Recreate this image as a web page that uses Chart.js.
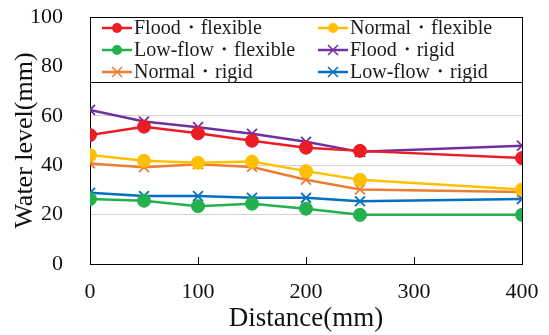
<!DOCTYPE html>
<html lang="en">
<head>
    <meta charset="UTF-8">
    <title>Water level vs distance</title>
    <script src="https://cdn.jsdelivr.net/npm/chart.js"></script>
    <style>
        body { margin: 0; padding: 0; background: #ffffff; }
        .chart-wrapper { position: relative; width: 549px; height: 335px; }
    </style>
</head>
<body>
    <div class="chart-wrapper">
        <canvas id="levelChart"></canvas>
    </div>
    <script>
        // distances along the channel (mm)
        var distances = [0, 50, 100, 150, 200, 250, 400];

        var floodFlexible   = [52.2, 55.6, 52.9, 49.9, 47.1, 45.8, 42.9];
        var normalFlexible  = [44.1, 41.8, 41.0, 41.5, 37.6, 34.1, 30.2];
        var lowFlexible     = [26.3, 25.6, 23.4, 24.4, 22.4, 19.9, 19.9];
        var floodRigid      = [62.4, 57.7, 55.4, 52.7, 49.5, 45.4, 47.9];
        var normalRigid     = [40.7, 39.2, 40.4, 39.3, 34.1, 30.2, 29.1];
        var lowRigid        = [28.8, 27.5, 27.5, 26.8, 26.8, 25.4, 26.3];

        var seriesNames = ['Flood・flexible', 'Normal・flexible', 'Low-flow・flexible',
                           'Flood・rigid', 'Normal・rigid', 'Low-flow・rigid'];

        var serif = "'Liberation Serif', 'Times New Roman', serif";

        function toPoints(vals) {
            return vals.map(function(v, i) { return { x: distances[i], y: v }; });
        }

        function makeSet(label, vals, color, marker) {
            return {
                label: label,
                data: toPoints(vals),
                borderColor: color,
                backgroundColor: color,
                borderWidth: 2.5,
                pointStyle: marker,
                pointRadius: marker === 'circle' ? 6.5 : 7,
                pointBorderWidth: marker === 'circle' ? 1 : 1.8,
                tension: 0
            };
        }

        var datasets = [
            makeSet(seriesNames[0], floodFlexible, '#EC1C24', 'circle'),
            makeSet(seriesNames[1], normalFlexible, '#FFC000', 'circle'),
            makeSet(seriesNames[2], lowFlexible, '#22B14C', 'circle'),
            makeSet(seriesNames[3], floodRigid, '#7030A0', 'crossRot'),
            makeSet(seriesNames[4], normalRigid, '#ED7D31', 'crossRot'),
            makeSet(seriesNames[5], lowRigid, '#0070C0', 'crossRot')
        ];

        // legend box inside the plot plus inner x ticks and right frame
        var framePlugin = {
            id: 'frame',
            afterDatasetsDraw: function(chart) {
                var c = chart.ctx, a = chart.chartArea;
                var xs = chart.scales.x;
                c.save();
                c.strokeStyle = '#000';
                c.lineWidth = 1;
                // right border
                c.beginPath();
                c.moveTo(a.right + 0.5, a.top);
                c.lineTo(a.right + 0.5, a.bottom);
                c.stroke();
                // inner tick marks on x axis
                xs.ticks.forEach(function(t) {
                    var px = Math.round(xs.getPixelForValue(t.value)) + 0.5;
                    c.beginPath();
                    c.moveTo(px, a.bottom);
                    c.lineTo(px, a.bottom - 7);
                    c.stroke();
                });
                // legend box
                var boxH = 65;
                c.fillStyle = '#fff';
                c.fillRect(a.left, a.top, a.right - a.left, boxH);
                c.strokeRect(a.left + 0.5, a.top + 0.5, a.right - a.left, boxH);
                c.font = '20px ' + serif;
                c.textBaseline = 'middle';
                chart.data.datasets.forEach(function(ds, k) {
                    var col = k % 2, row = Math.floor(k / 2);
                    var x0 = a.left + 12 + col * 216;
                    var y0 = a.top + 11 + row * 22;
                    c.strokeStyle = ds.borderColor;
                    c.lineWidth = 2.5;
                    c.beginPath();
                    c.moveTo(x0, y0);
                    c.lineTo(x0 + 30, y0);
                    c.stroke();
                    var cx = x0 + 15;
                    if (ds.pointStyle === 'circle') {
                        c.fillStyle = ds.borderColor;
                        c.beginPath();
                        c.arc(cx, y0, 5, 0, Math.PI * 2);
                        c.fill();
                    } else {
                        c.lineWidth = 1.5;
                        c.beginPath();
                        c.moveTo(cx - 5, y0 - 5); c.lineTo(cx + 5, y0 + 5);
                        c.moveTo(cx - 5, y0 + 5); c.lineTo(cx + 5, y0 - 5);
                        c.stroke();
                    }
                    c.fillStyle = '#1a1a1a';
                    c.fillText(ds.label, x0 + 32, y0 + 1);
                });
                c.restore();
            }
        };

        var ctx = document.getElementById('levelChart').getContext('2d');
        var chart = new Chart(ctx, {
            type: 'line',
            data: { datasets: datasets },
            plugins: [framePlugin],
            options: {
                responsive: true,
                maintainAspectRatio: false,
                animation: false,
                layout: { padding: { top: 17, right: 27, left: 0, bottom: 0 } },
                scales: {
                    x: {
                        type: 'linear',
                        min: 0, max: 400,
                        ticks: { stepSize: 100, color: '#111', padding: 15,
                                 font: { family: serif, size: 22 } },
                        grid: { display: false, drawTicks: false },
                        border: { color: '#000', width: 1 },
                        title: { display: true, text: 'Distance(mm)', color: '#111',
                                 font: { family: serif, size: 27 }, padding: { top: -7, bottom: 0 } },
                        afterFit: function(s) {
                            s.height = 71;
                            s.paddingLeft = 0;
                            s.paddingRight = 0;
                        }
                    },
                    y: {
                        min: 0, max: 100,
                        ticks: { stepSize: 20, color: '#111', padding: 27,
                                 font: { family: serif, size: 22 } },
                        grid: { color: '#d4d4d4', drawTicks: false, lineWidth: 1 },
                        border: { color: '#000', width: 1 },
                        title: { display: true, text: 'Water level(mm)', color: '#111',
                                 font: { family: serif, size: 26 }, padding: { top: 10, bottom: 0 } },
                        afterFit: function(s) {
                            s.width = 90;
                            s.paddingTop = 0;
                            s.paddingBottom = 0;
                        }
                    }
                },
                plugins: {
                    legend: { display: false },
                    tooltip: { enabled: false }
                }
            }
        });
    </script>
</body>
</html>
